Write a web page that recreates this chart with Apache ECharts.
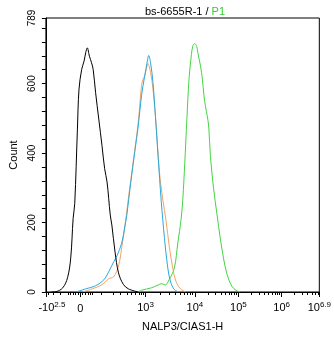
<!DOCTYPE html>
<html>
<head>
<meta charset="utf-8">
<script src="https://cdn.jsdelivr.net/npm/echarts@6/dist/echarts.min.js"></script>
<style>
  html, body { margin: 0; padding: 0; background: #fff; }
  #chart { width: 334px; height: 337px; }
</style>
</head>
<body>
<div id="chart"></div>
<script>
// Histogram of NALP3/CIAS1-H fluorescence; x values are display channels (0-1024)
// on a biexponential scale, y values are event counts.

const blackChannels = [20, 38, 63, 81, 93, 102, 108, 118, 124, 134, 143, 149, 155, 163, 171, 177, 186, 198, 210, 220, 229, 241, 247, 259, 272, 290, 309, 346];
const blackCounts   = [0, 1, 12, 41, 98, 212, 255, 469, 584, 641, 665, 689, 703, 679, 660, 641, 575, 498, 422, 355, 317, 222, 193, 115, 55, 22, 9, 0];

const orangeChannels = [137, 173, 210, 235, 254, 272, 284, 296, 309, 327, 346, 358, 364, 370, 376, 382, 392, 401, 413, 425, 438, 450, 462, 475, 487, 503, 524];
const orangeCounts   = [0, 9, 21, 38, 44, 75, 127, 190, 270, 375, 490, 594, 613, 622, 641, 658, 632, 584, 479, 347, 265, 205, 132, 69, 31, 10, 0];

const blueChannels = [112, 149, 186, 217, 235, 254, 266, 284, 296, 303, 315, 331, 346, 358, 370, 380, 385, 392, 401, 410, 420, 432, 444, 455, 466, 481, 498];
const blueCounts   = [0, 9, 18, 35, 58, 87, 104, 141, 190, 221, 298, 393, 479, 565, 622, 665, 681, 660, 603, 508, 393, 261, 155, 78, 32, 7, 0];

const greenChannels = [346, 358, 395, 420, 434, 447, 462, 481, 494, 506, 513, 520, 528, 536, 545, 551, 558, 565, 569, 579, 586, 592, 598, 604, 610, 616, 628, 641, 653, 665, 678, 696, 712, 727];
const greenCounts   = [0, 5, 12, 20, 24, 20, 36, 69, 141, 207, 270, 370, 498, 613, 684, 710, 715, 707, 689, 651, 613, 565, 533, 508, 475, 393, 298, 222, 155, 98, 52, 17, 5, 0];

// Labelled ticks of the biexponential axis: channel position and label (base, exponent)
const xTickChannels = [0, 129, 373, 558, 721, 883, 1024];
const xTickLabels   = [['-10', '2.5'], ['0', ''], ['10', '3'], ['10', '4'], ['10', '5'], ['10', '6'], ['10', '6.9']];

// Unlabelled ticks in the linear region around zero
const xLinearMinorChannels = [7, 26, 52, 83, 92, 101, 111, 120, 138, 148, 157, 166, 175, 209, 251, 280, 303, 321, 336, 349, 358, 365];

const yLabelValues = [0, 200, 400, 600, 789];
const yMax = 789;

const FONT = 'Liberation Sans, Arial, sans-serif';

// Logarithmic minor ticks (2..9 x 10^k) between the decade ticks
const decadeChannels = xTickChannels.slice(2); // 10^3 .. 10^6.9
const decadeWidth = decadeChannels[3] - decadeChannels[2];
const xMinorChannels = xLinearMinorChannels.slice();
for (let k = 0; k < 4; k++) {
  const start = decadeChannels[k];
  const width = k < 3 ? decadeChannels[k + 1] - start : decadeWidth;
  for (let m = 2; m <= 9; m++) {
    const c = start + width * Math.log10(m);
    if (c < 1024) xMinorChannels.push(Math.round(c * 10) / 10);
  }
}

const yTickValues = [];
for (let v = 0; v < yMax; v += 40) yTickValues.push(v);
yTickValues.push(yMax);

function pairs(xs, ys) { return xs.map((x, i) => [x, ys[i]]); }

function xLabel(value) {
  let idx = 0, best = Infinity;
  xTickChannels.forEach((c, i) => { const d = Math.abs(c - value); if (d < best) { best = d; idx = i; } });
  const [base, exp] = xTickLabels[idx];
  if (!exp) return '{z|' + base + '}';
  if (idx === 0) return '{bl|' + base + '}{s|' + exp + '}';
  return '{b|' + base + '}{s|' + exp + '}';
}

const chart = echarts.init(document.getElementById('chart'), null, { renderer: 'canvas' });

function histSeries(name, xs, ys, color, z) {
  return {
    name, type: 'line', xAxisIndex: 0, yAxisIndex: 0,
    data: pairs(xs, ys), smooth: 0.35, showSymbol: false, symbol: 'none',
    lineStyle: { color, width: 1 }, z,
    animation: false
  };
}

chart.setOption({
  animation: false,
  backgroundColor: '#fff',
  title: {
    text: '{a|bs-6655R-1 / }{g|P1}',
    left: 180, top: 1, textAlign: 'center',
    textStyle: {
      fontWeight: 'normal',
      rich: {
        a: { fontFamily: FONT, fontSize: 11, fontWeight: 'normal', color: '#000' },
        g: { fontFamily: FONT, fontSize: 11, fontWeight: 'normal', color: '#33cc33' }
      }
    }
  },
  grid: {
    left: 43, right: 13, top: 18, bottom: 43,
    show: true, borderColor: '#000', borderWidth: 1, backgroundColor: 'transparent'
  },
  xAxis: [
    {
      type: 'value', min: 0, max: 1024, position: 'bottom',
      name: 'NALP3/CIAS1-H', nameLocation: 'middle', nameGap: 29,
      nameTextStyle: { fontFamily: FONT, fontSize: 11, color: '#000' },
      axisLine: { show: true, lineStyle: { color: '#000', width: 1 } },
      axisTick: { show: true, customValues: xTickChannels, length: 5, inside: false, lineStyle: { color: '#000' } },
      axisLabel: {
        show: true, customValues: xTickChannels, margin: 9, formatter: xLabel,
        hideOverlap: false,
        rich: {
          b: { fontFamily: FONT, fontSize: 11, color: '#000' },
          bl: { fontFamily: FONT, fontSize: 11, color: '#000', padding: [0, 0, 0, 12] },
          // plain "0": nudged down to the baseline of the labels that carry an exponent
          z: { fontFamily: FONT, fontSize: 11, color: '#000', padding: [2, 0, 0, 0] },
          s: { fontFamily: FONT, fontSize: 8, color: '#000', verticalAlign: 'bottom', padding: [0, 0, 6, 0] }
        }
      },
      splitLine: { show: false }
    },
    {
      type: 'value', min: 0, max: 1024, position: 'bottom',
      axisLine: { show: false },
      axisTick: { show: true, customValues: xMinorChannels, length: 3, lineStyle: { color: '#000' } },
      axisLabel: { show: false },
      splitLine: { show: false }
    }
  ],
  yAxis: {
    type: 'value', min: 0, max: yMax,
    name: 'Count', nameLocation: 'middle', nameGap: 25, nameRotate: 90,
    nameTextStyle: { fontFamily: FONT, fontSize: 11, color: '#000' },
    axisLine: { show: true, lineStyle: { color: '#000', width: 1 } },
    axisTick: { show: true, customValues: yTickValues, length: 4, lineStyle: { color: '#000' } },
    axisLabel: {
      show: true, customValues: yLabelValues, rotate: 90, margin: 9,
      fontFamily: FONT, fontSize: 10, color: '#000'
    },
    splitLine: { show: false }
  },
  series: [
    histSeries('P1', greenChannels, greenCounts, '#44d444', 2),
    histSeries('orange', orangeChannels, orangeCounts, '#f0a468', 3),
    histSeries('blue', blueChannels, blueCounts, '#2aa8dc', 4),
    histSeries('control', blackChannels, blackCounts, '#000000', 5)
  ]
});
</script>
</body>
</html>
